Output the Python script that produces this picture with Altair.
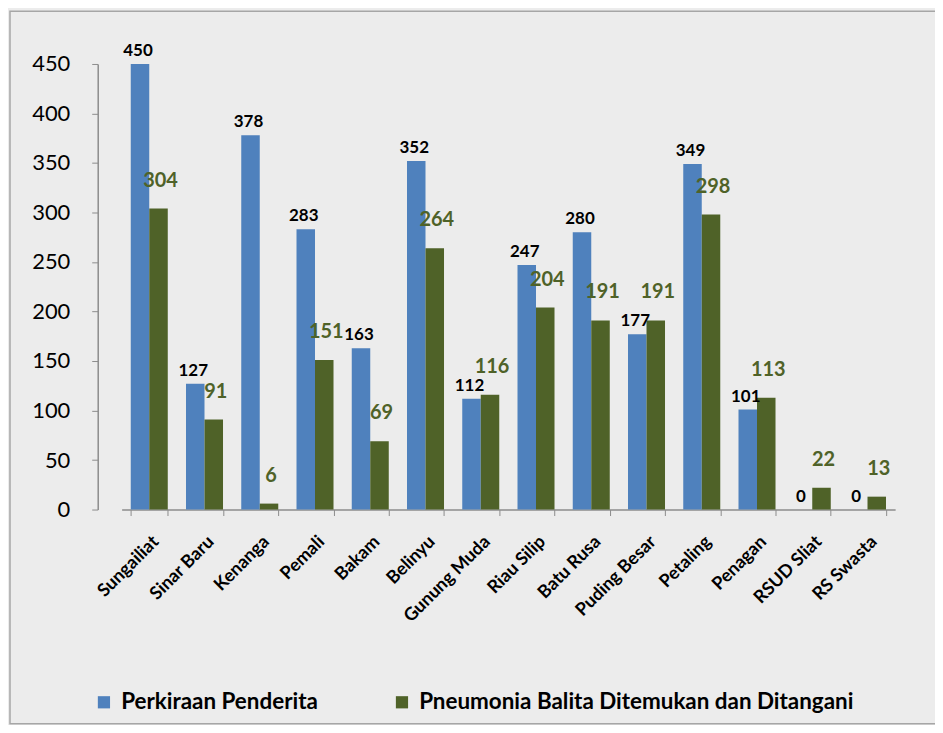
import altair as alt
import pandas as pd

categories = ["Sungailiat", "Sinar Baru", "Kenanga", "Pemali", "Bakam", "Belinyu",
              "Gunung Muda", "Riau Silip", "Batu Rusa", "Puding Besar", "Petaling",
              "Penagan", "RSUD Sliat", "RS Swasta"]
perkiraan = [450, 127, 378, 283, 163, 352, 112, 247, 280, 177, 349, 101, 0, 0]
pneumonia = [304, 91, 6, 151, 69, 264, 116, 204, 191, 191, 298, 113, 22, 13]
series = ["Perkiraan Penderita", "Pneumonia Balita Ditemukan dan Ditangani"]
colors = ["#4f81bd", "#4f6228"]
y_ticks = [0, 50, 100, 150, 200, 250, 300, 350, 400, 450]

rows = []
for c, a, b in zip(categories, perkiraan, pneumonia):
    rows.append({"cat": c, "series": series[0], "value": a})
    rows.append({"cat": c, "series": series[1], "value": b})
df = pd.DataFrame(rows)

FONT = "Lato"

x_enc = alt.X("cat:N", sort=categories, title=None,
              scale=alt.Scale(paddingInner=0.33, paddingOuter=0.165),
              axis=alt.Axis(labelAngle=-45, labelAlign="right", labelBaseline="top",
                            labelFont=FONT, labelFontSize=18, labelFontWeight="bold",
                            labelColor="#000000", labelPadding=17, labelOffset=0,
                            tickBand="extent", domainColor="#8c8c8c", domainWidth=1.5,
                            tickColor="#8c8c8c", tickSize=6, labelLimit=300))
xo_enc = alt.XOffset("series:N", sort=series,
                     scale=alt.Scale(domain=series, paddingInner=0))
y_enc = alt.Y("value:Q", title=None,
              scale=alt.Scale(domain=[0, 450]),
              axis=alt.Axis(values=y_ticks, grid=False, offset=24, tickSize=6,
                            labelPadding=22, labelFont=FONT, labelFontSize=22,
                            labelColor="#000000", domainColor="#8c8c8c", domainWidth=1.5,
                            tickColor="#8c8c8c"))

base = alt.Chart(df).encode(x=x_enc, xOffset=xo_enc, y=y_enc)

bars = base.mark_bar().encode(
    color=alt.Color("series:N", sort=series,
                    scale=alt.Scale(domain=series, range=colors),
                    legend=alt.Legend(title=None, orient="none", legendX=-29, legendY=629,
                                      direction="horizontal", symbolType="square",
                                      symbolSize=150, symbolStrokeWidth=0,
                                      labelFont=FONT, labelFontSize=22.5, labelOffset=6,
                                      labelFontWeight="bold", labelColor="#000000",
                                      labelLimit=700, columnPadding=72))
)

blue_text = base.transform_filter(alt.datum.series == series[0]).mark_text(
    baseline="middle", dx=-2, dy=-13, font=FONT, fontSize=17, fontWeight="bold",
    color="#000000"
).encode(text="value:Q")

green_text = base.transform_filter(alt.datum.series == series[1]).mark_text(
    baseline="middle", dx=2, dy=-28, font=FONT, fontSize=20, fontWeight="bold",
    color="#4f6228"
).encode(text="value:Q")

frame = alt.Chart(alt.Data(values=[{}])).mark_rect(
    fill=None, stroke="#a6a6a6", strokeWidth=1.5
).encode(x=alt.value(-112), x2=alt.value(818), y=alt.value(-53), y2=alt.value(662))

chart = alt.layer(frame, bars, blue_text, green_text).properties(
    width=776, height=447,
    autosize=alt.AutoSizeParams(type="none"),
    padding={"left": 114, "top": 55, "right": 40, "bottom": 215},
    background="#ececec",
).configure_view(stroke=None)

chart.save("out.html", embed_options={"renderer": "svg", "actions": False})
